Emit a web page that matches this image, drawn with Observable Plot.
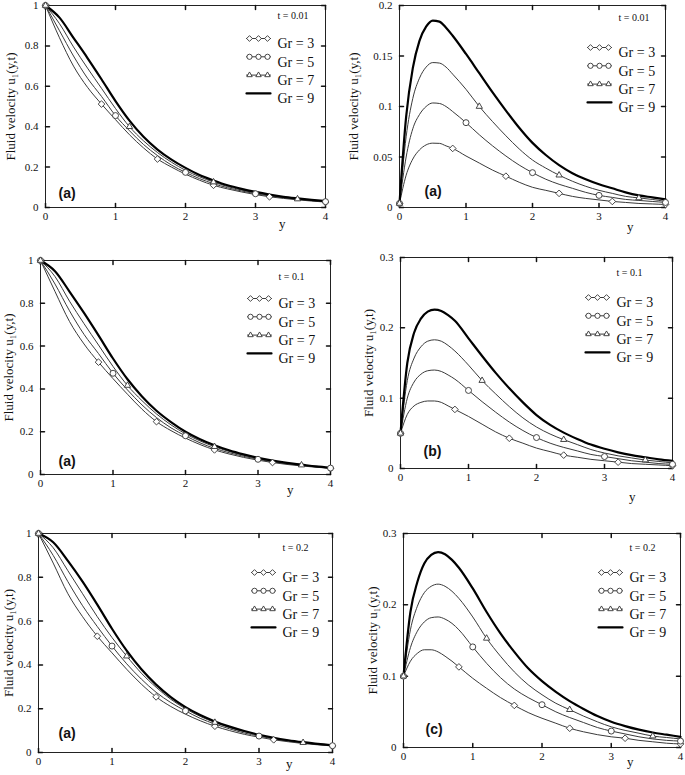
<!DOCTYPE html>
<html><head><meta charset="utf-8">
<script src="https://cdn.jsdelivr.net/npm/d3@7"></script>
<script src="https://cdn.jsdelivr.net/npm/@observablehq/plot@0.6"></script>
<style>
body{margin:0;background:#fff;}
#wrap{position:relative;width:685px;height:775px;overflow:hidden;background:#fff;}
#wrap svg{position:absolute;overflow:visible;}
</style></head><body><div id="wrap"></div>
<script>
// ---- data ----
const grs = [3, 5, 7, 9];
const grLabels = ["Gr = 3", "Gr = 5", "Gr = 7", "Gr = 9"];
const tLabels = ["t = 0.01", "t = 0.1", "t = 0.2"];
const tags = ["(a)", "(a)", "(a)", "(a)", "(b)", "(c)"];
const xTicks = [0, 1, 2, 3, 4];
const leftYTicks = [0, 0.2, 0.4, 0.6, 0.8, 1];
const rightYTicksA = [0, 0.05, 0.1, 0.15, 0.2];
const rightYTicksB = [0, 0.1, 0.2, 0.3];
const yLabel = "Fluid velocity u\u2081(y,t)";

const xsL = [0,0.2,0.4,0.6,0.8,1.0,1.2,1.4,1.6,1.8,2.0,2.2,2.4,2.6,2.8,3.0,3.2,3.4,3.6,3.8,4.0];
const xsR = [0,0.1,0.2,0.3,0.4,0.5,0.6,0.7,0.8,1.0,1.2,1.4,1.6,1.8,2.0,2.2,2.4,2.6,2.8,3.0,3.2,3.4,3.6,3.8,4.0];

// left column
const L001_3 = [1,0.84,0.70,0.595,0.512,0.435,0.36,0.295,0.24,0.2,0.165,0.135,0.11,0.092,0.077,0.064,0.053,0.045,0.038,0.032,0.027];
const L001_5 = [1,0.875,0.75,0.64,0.55,0.455,0.38,0.312,0.257,0.21,0.174,0.143,0.118,0.098,0.082,0.068,0.057,0.048,0.04,0.034,0.029];
const L001_7 = [1,0.91,0.795,0.69,0.59,0.49,0.40,0.33,0.272,0.224,0.184,0.152,0.126,0.104,0.087,0.072,0.06,0.05,0.042,0.036,0.03];
const L001_9 = [1,0.94,0.84,0.74,0.635,0.527,0.43,0.35,0.287,0.237,0.196,0.161,0.134,0.11,0.092,0.077,0.064,0.053,0.045,0.038,0.032];

const L01_3 = [1,0.855,0.715,0.61,0.525,0.448,0.375,0.305,0.247,0.205,0.17,0.14,0.115,0.096,0.08,0.067,0.056,0.047,0.04,0.034,0.029];
const L01_5 = [1,0.89,0.765,0.655,0.565,0.473,0.395,0.325,0.266,0.218,0.181,0.148,0.122,0.102,0.085,0.071,0.059,0.05,0.042,0.036,0.03];
const L01_7 = [1,0.925,0.81,0.705,0.605,0.505,0.416,0.345,0.283,0.232,0.19,0.157,0.13,0.108,0.09,0.075,0.062,0.052,0.044,0.037,0.031];
const L01_9 = [1,0.95,0.855,0.755,0.65,0.542,0.445,0.365,0.298,0.245,0.2,0.165,0.137,0.113,0.094,0.078,0.065,0.054,0.046,0.038,0.032];

const L02_3 = [1,0.865,0.725,0.62,0.531,0.455,0.38,0.312,0.254,0.21,0.175,0.145,0.12,0.1,0.083,0.07,0.058,0.049,0.041,0.035,0.03];
const L02_5 = [1,0.90,0.78,0.67,0.575,0.486,0.405,0.335,0.275,0.228,0.19,0.156,0.13,0.108,0.089,0.075,0.062,0.052,0.044,0.037,0.031];
const L02_7 = [1,0.935,0.83,0.725,0.62,0.525,0.44,0.362,0.298,0.243,0.2,0.165,0.137,0.114,0.095,0.079,0.065,0.054,0.045,0.038,0.032];
const L02_9 = [1,0.96,0.875,0.78,0.675,0.565,0.465,0.38,0.31,0.253,0.207,0.171,0.142,0.118,0.098,0.081,0.067,0.056,0.047,0.039,0.033];

// right column
const R001_3 = [0.004,0.032,0.048,0.057,0.062,0.0637,0.0635,0.061,0.0585,0.051,0.044,0.037,0.031,0.025,0.02,0.017,0.014,0.011,0.009,0.0075,0.006,0.005,0.004,0.0035,0.003];
const R001_5 = [0.004,0.05,0.078,0.092,0.1,0.1035,0.103,0.1,0.095,0.084,0.072,0.061,0.051,0.042,0.0345,0.028,0.023,0.019,0.015,0.012,0.01,0.008,0.007,0.006,0.005];
const R001_7 = [0.004,0.07,0.108,0.128,0.139,0.1435,0.143,0.139,0.132,0.117,0.1,0.085,0.071,0.058,0.047,0.039,0.032,0.026,0.021,0.017,0.014,0.011,0.0095,0.008,0.006];
const R001_9 = [0.004,0.09,0.138,0.165,0.179,0.185,0.184,0.178,0.17,0.152,0.133,0.114,0.096,0.079,0.064,0.052,0.042,0.034,0.028,0.023,0.019,0.015,0.012,0.01,0.008];

const R01_3 = [0.05,0.077,0.089,0.094,0.096,0.096,0.094,0.089,0.084,0.074,0.063,0.052,0.043,0.036,0.029,0.024,0.019,0.016,0.013,0.011,0.009,0.007,0.006,0.005,0.004];
const R01_5 = [0.05,0.1,0.123,0.134,0.139,0.14,0.138,0.133,0.127,0.111,0.095,0.08,0.066,0.054,0.044,0.036,0.03,0.025,0.02,0.017,0.014,0.011,0.009,0.007,0.006];
const R01_7 = [0.05,0.125,0.157,0.173,0.181,0.183,0.181,0.175,0.167,0.147,0.125,0.106,0.088,0.072,0.059,0.049,0.041,0.034,0.027,0.022,0.018,0.015,0.012,0.01,0.008];
const R01_9 = [0.05,0.15,0.193,0.213,0.223,0.226,0.224,0.218,0.21,0.185,0.16,0.136,0.114,0.094,0.076,0.062,0.051,0.042,0.034,0.028,0.023,0.019,0.016,0.013,0.011];

const R02_3 = [0.1,0.121,0.132,0.137,0.137,0.134,0.128,0.121,0.113,0.097,0.083,0.07,0.059,0.049,0.041,0.034,0.027,0.022,0.018,0.015,0.013,0.01,0.008,0.006,0.005];
const R02_5 = [0.1,0.14,0.163,0.176,0.182,0.183,0.18,0.174,0.165,0.141,0.118,0.098,0.082,0.07,0.06,0.05,0.042,0.035,0.028,0.023,0.019,0.015,0.012,0.01,0.009];
const R02_7 = [0.1,0.165,0.198,0.217,0.226,0.229,0.226,0.219,0.209,0.183,0.153,0.128,0.106,0.088,0.074,0.062,0.053,0.044,0.036,0.029,0.024,0.02,0.016,0.014,0.012];
const R02_9 = [0.1,0.19,0.232,0.258,0.27,0.274,0.271,0.263,0.252,0.223,0.19,0.16,0.134,0.111,0.093,0.078,0.065,0.054,0.044,0.036,0.03,0.025,0.021,0.018,0.015];

// marker spacing per Gr series (Gr = 9 has none)
const markerStep = {3: 0.8, 5: 1.0, 7: 1.2};
const markerSymbol = {3: "diamond2", 5: "circle", 7: "triangle2"};

// ---- layout (pixels) ----
const panels = [
  {frame:{l:45,r:325,t:5,b:207},  xs:xsL, series:[L001_3,L001_5,L001_7,L001_9], yDomain:[0,1],   yTicks:leftYTicks,   tLabel:tLabels[0], tag:tags[0], labOff:35, tagDx:13, tagDy:-10, yDx:-40, yDy:20, legDx:-48, legDy:33, tDy:6},
  {frame:{l:399,r:665,t:5,b:207}, xs:xsR, series:[R001_3,R001_5,R001_7,R001_9], yDomain:[0,0.2], yTicks:rightYTicksA, tLabel:tLabels[0], tag:tags[1], labOff:46, tagDx:25, tagDy:-12, yDx:-32, yDy:23, legDx:-47, legDy:42, tDy:8},
  {frame:{l:40,r:330,t:260,b:474},xs:xsL, series:[L01_3,L01_5,L01_7,L01_9],     yDomain:[0,1],   yTicks:leftYTicks,   tLabel:tLabels[1], tag:tags[2], labOff:32, tagDx:18, tagDy:-9,  yDx:-37, yDy:19, legDx:-52, legDy:38, tDy:12},
  {frame:{l:400,r:672,t:257,b:468},xs:xsR, series:[R01_3,R01_5,R01_7,R01_9],    yDomain:[0,0.3], yTicks:rightYTicksB, tLabel:tLabels[1], tag:tags[4], labOff:32, tagDx:23, tagDy:-13, yDx:-37, yDy:32, legDx:-56, legDy:40, tDy:11},
  {frame:{l:38,r:332,t:533,b:752},xs:xsL, series:[L02_3,L02_5,L02_7,L02_9],     yDomain:[0,1],   yTicks:leftYTicks,   tLabel:tLabels[2], tag:tags[3], labOff:30, tagDx:20, tagDy:-15, yDx:-40, yDy:15, legDx:-50, legDy:39, tDy:10},
  {frame:{l:403,r:680,t:533,b:747},xs:xsR, series:[R02_3,R02_5,R02_7,R02_9],    yDomain:[0,0.3], yTicks:rightYTicksB, tLabel:tLabels[2], tag:tags[5], labOff:31, tagDx:22, tagDy:-14, yDx:-47, yDy:18, legDx:-51, legDy:39, tDy:10}
];

const tickShape = {draw(ctx, l) { ctx.moveTo(0, 0); ctx.lineTo(0, -l); }};
const isMult = (x, s) => Math.abs(x / s - Math.round(x / s)) < 1e-6;
const serif = "'Liberation Serif', 'Times New Roman', serif";

function buildPanel(cfg) {
  const rows = [];
  cfg.series.forEach((vals, i) => vals.forEach((v, j) => rows.push({x: cfg.xs[j], u: v, gr: grs[i]})));
  const ML = 60, MT = 12, MR = 12, MB = 40;
  const W = cfg.frame.r - cfg.frame.l, H = cfg.frame.b - cfg.frame.t;
  const marks = [
    Plot.frame({stroke: "#222", strokeWidth: 1}),
    Plot.vector(xTicks, {x: d => d, frameAnchor: "bottom", length: 4, rotate: 0, anchor: "start", shape: tickShape, stroke: "#111"}),
    Plot.vector(xTicks, {x: d => d, frameAnchor: "top", length: 4, rotate: 180, anchor: "start", shape: tickShape, stroke: "#111"}),
    Plot.vector(cfg.yTicks, {y: d => d, frameAnchor: "left", length: 4, rotate: 90, anchor: "start", shape: tickShape, stroke: "#111"}),
    Plot.vector(cfg.yTicks, {y: d => d, frameAnchor: "right", length: 4, rotate: -90, anchor: "start", shape: tickShape, stroke: "#111"}),
    Plot.axisX({anchor: "bottom", ticks: xTicks, tickSize: 0, tickPadding: 5, tickFormat: d => String(d), label: null, fontSize: 11}),
    Plot.axisY({anchor: "left", ticks: cfg.yTicks, tickSize: 0, tickPadding: 7, tickFormat: d => String(d), label: null, fontSize: 11}),
    Plot.line(rows.filter(d => d.gr !== 9), {x: "x", y: "u", z: "gr", stroke: "#3a3a3a", strokeWidth: 1, curve: "monotone-x"}),
    Plot.line(rows.filter(d => d.gr === 9), {x: "x", y: "u", stroke: "#000", strokeWidth: 2.2, curve: "monotone-x"})
  ];
  [3, 5, 7].forEach(g => {
    marks.push(Plot.dot(rows.filter(d => d.gr === g && isMult(d.x, markerStep[g])),
      {x: "x", y: "u", symbol: markerSymbol[g], r: 3, fill: "white", stroke: "#333", strokeWidth: 0.9}));
  });
  // texts
  marks.push(Plot.text([yLabel], {frameAnchor: "left", textAnchor: "middle", dx: -cfg.labOff, rotate: -90, fontSize: 13, fill: "#111"}));
  marks.push(Plot.text(["y"], {frameAnchor: "bottom-right", dx: cfg.yDx, dy: cfg.yDy, fontSize: 13, fill: "#111"}));
  marks.push(Plot.text([cfg.tag], {frameAnchor: "bottom-left", dx: cfg.tagDx, dy: cfg.tagDy, fontSize: 14, fontWeight: "bold", fontFamily: "'Liberation Sans', Arial, sans-serif", fill: "#111"}));
  marks.push(Plot.text([cfg.tLabel], {frameAnchor: "top-right", textAnchor: "start", dx: cfg.legDx, dy: cfg.tDy, fontSize: 10, fill: "#111"}));
  // legend
  grLabels.forEach((lab, i) => {
    const dy = cfg.legDy + i * 18.3;
    marks.push(Plot.text([lab], {frameAnchor: "top-right", textAnchor: "start", dx: cfg.legDx, dy, fontSize: 14, fill: "#111"}));
    marks.push(Plot.vector([0], {frameAnchor: "top-right", dx: cfg.legDx - 31, dy, length: 24, rotate: 90, anchor: "start", shape: tickShape,
      stroke: grs[i] === 9 ? "#000" : "#3a3a3a", strokeWidth: grs[i] === 9 ? 2.2 : 1}));
    if (markerSymbol[grs[i]]) {
      [0, 1, 2].forEach(k => marks.push(Plot.dot([0], {frameAnchor: "top-right", dx: cfg.legDx - 28 + k * 9, dy,
        symbol: markerSymbol[grs[i]], r: 2.6, fill: "white", stroke: "#333", strokeWidth: 0.9})));
    }
  });
  const svg = Plot.plot({
    width: W + ML + MR, height: H + MT + MB,
    marginLeft: ML, marginTop: MT, marginRight: MR, marginBottom: MB,
    style: {fontFamily: serif, fontSize: "11px", color: "#111", background: "transparent", overflow: "visible"},
    x: {domain: [0, 4]},
    y: {domain: cfg.yDomain},
    marks
  });
  svg.style.left = (cfg.frame.l - ML) + "px";
  svg.style.top = (cfg.frame.t - MT) + "px";
  return svg;
}

const wrap = document.getElementById("wrap");
panels.forEach(p => wrap.appendChild(buildPanel(p)));
</script>
</body></html>
